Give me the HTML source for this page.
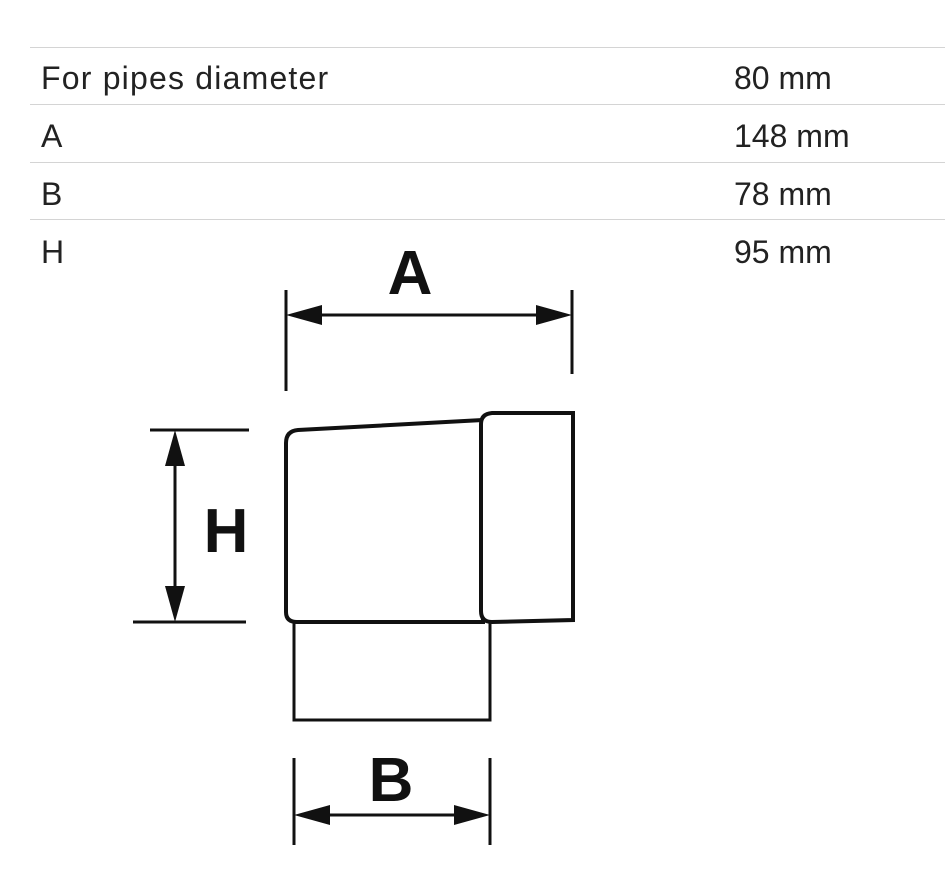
<!DOCTYPE html>
<html><head><meta charset="utf-8"><style>
body{margin:0;background:#fff;width:945px;height:876px;overflow:hidden;position:relative;font-family:"Liberation Sans",sans-serif}
.t{position:absolute;font-size:32px;color:#222;line-height:1}
.k{letter-spacing:1.2px}
.l{position:absolute;left:30px;right:0;height:1px;background:#d4d4d4}
</style></head><body>
<div class="l" style="top:47px"></div>
<div class="l" style="top:104px"></div>
<div class="l" style="top:162px"></div>
<div class="l" style="top:219px"></div>
<div class="t k" style="left:41px;top:62px">For pipes diameter</div>
<div class="t" style="left:734px;top:62px">80 mm</div>
<div class="t k" style="left:41px;top:120px">A</div>
<div class="t" style="left:734px;top:120px">148 mm</div>
<div class="t k" style="left:41px;top:178px">B</div>
<div class="t" style="left:734px;top:178px">78 mm</div>
<div class="t k" style="left:41px;top:236px">H</div>
<div class="t" style="left:734px;top:236px">95 mm</div>
<svg width="945" height="876" style="position:absolute;left:0;top:0">
<g stroke="#111" stroke-width="3" fill="none">
<line x1="286" y1="290" x2="286" y2="391"/>
<line x1="572" y1="290" x2="572" y2="374"/>
<line x1="300" y1="315" x2="558" y2="315"/>
<line x1="150" y1="430" x2="249" y2="430"/>
<line x1="133" y1="622" x2="246" y2="622"/>
<line x1="175" y1="445" x2="175" y2="607"/>
<line x1="294" y1="758" x2="294" y2="845"/>
<line x1="490" y1="758" x2="490" y2="845"/>
<line x1="308" y1="815" x2="476" y2="815"/>
<path d="M286 443 Q286 431 298 430 L483 420 L483 622 L297 622 Q286 622 286 612 Z" stroke-width="4"/>
<path d="M492 413 L573 413 L573 620 L492 622 Q481 622 481 611 L481 424 Q481 414 492 413 Z" stroke-width="4" fill="#fff"/>
<path d="M294 622 L294 720 L490 720 L490 622" stroke-width="3"/>
</g>
<g fill="#111">
<path d="M286 315 L322 305 L322 325 Z"/>
<path d="M572 315 L536 305 L536 325 Z"/>
<path d="M175 430 L165 466 L185 466 Z"/>
<path d="M175 622 L165 586 L185 586 Z"/>
<path d="M294 815 L330 805 L330 825 Z"/>
<path d="M490 815 L454 805 L454 825 Z"/>
</g>
<g font-family="Liberation Sans" font-weight="bold" font-size="62" fill="#111" text-anchor="middle">
<text x="410" y="294">A</text>
<text x="226" y="552">H</text>
<text x="391" y="801">B</text>
</g>
</svg>
</body></html>
